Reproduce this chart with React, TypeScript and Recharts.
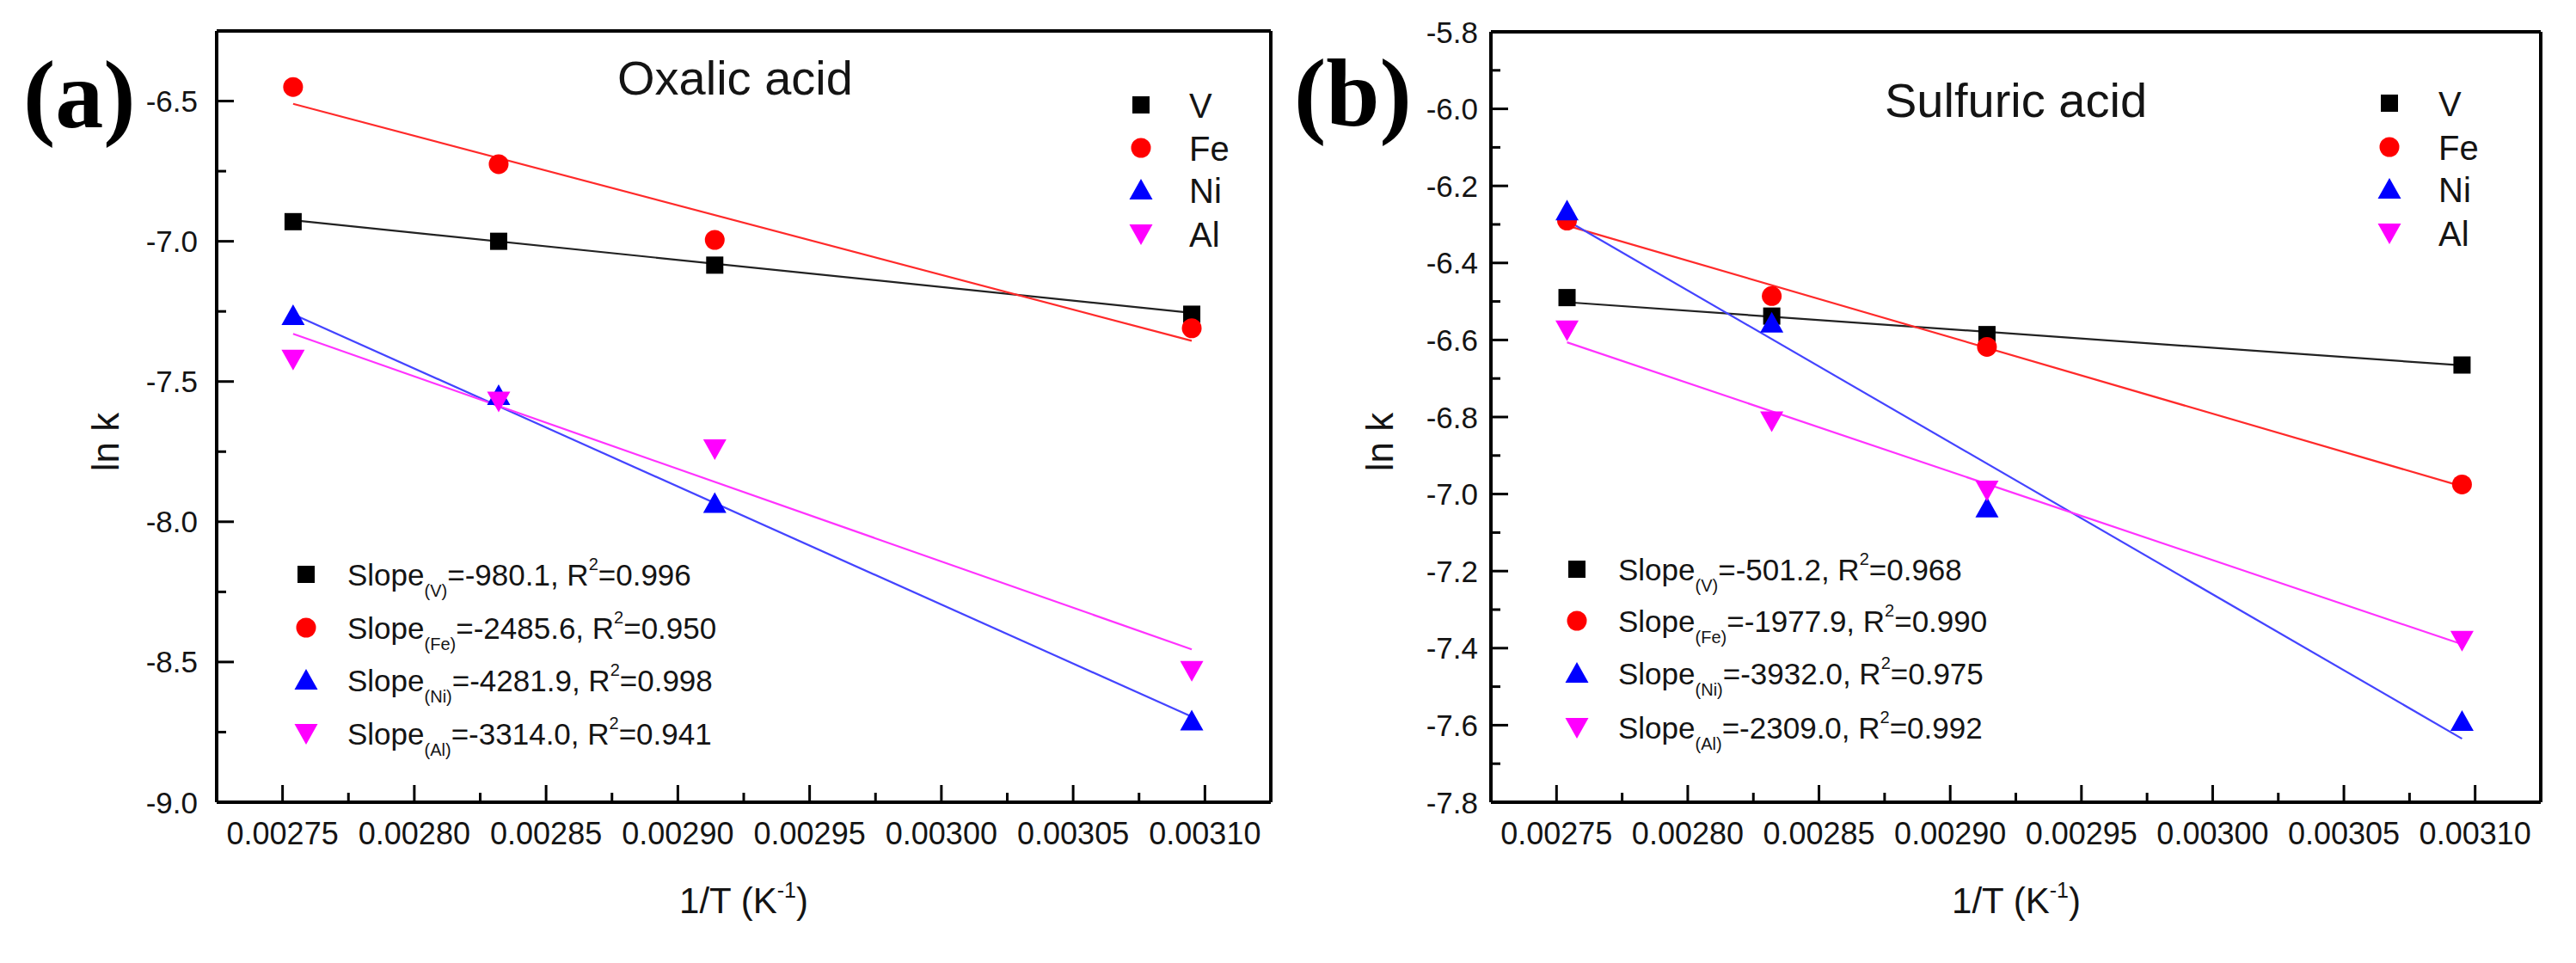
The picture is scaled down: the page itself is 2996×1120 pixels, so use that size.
import React from 'react';
import { ComposedChart, Scatter, XAxis, YAxis, ReferenceLine } from 'recharts';

// ---------- data ----------
const INV_T = [0.002754, 0.002832, 0.002914, 0.003095];
const FIT_X = [0.002754, 0.003095];

const SERIES_NAMES = ['V', 'Fe', 'Ni', 'Al'];

// (a) Oxalic acid
const OX_V = [-6.93, -7.0, -7.085, -7.26];
const OX_FE = [-6.45, -6.725, -6.995, -7.31];
const OX_NI = [-7.265, -7.55, -7.935, -8.71];
const OX_AL = [-7.42, -7.57, -7.74, -8.53];
const OX_FIT_V = [-6.925, -7.255];
const OX_FIT_FE = [-6.51, -7.355];
const OX_FIT_NI = [-7.26, -8.695];
const OX_FIT_AL = [-7.33, -8.455];
const OX_SLOPES = ['-980.1', '-2485.6', '-4281.9', '-3314.0'];
const OX_R2 = ['0.996', '0.950', '0.998', '0.941'];

// (b) Sulfuric acid
const SU_V = [-6.49, -6.538, -6.586, -6.665];
const SU_FE = [-6.29, -6.486, -6.618, -6.975];
const SU_NI = [-6.265, -6.556, -7.036, -7.59];
const SU_AL = [-6.574, -6.81, -6.99, -7.38];
const SU_FIT_V = [-6.502, -6.666];
const SU_FIT_FE = [-6.303, -6.98];
const SU_FIT_NI = [-6.29, -7.635];
const SU_FIT_AL = [-6.606, -7.39];
const SU_SLOPES = ['-501.2', '-1977.9', '-3932.0', '-2309.0'];
const SU_R2 = ['0.968', '0.990', '0.975', '0.992'];

// ticks
const X_MAJOR = [0.00275, 0.0028, 0.00285, 0.0029, 0.00295, 0.003, 0.00305, 0.0031];
const X_MINOR = [0.002775, 0.002825, 0.002875, 0.002925, 0.002975, 0.003025, 0.003075];
const OX_Y_MAJOR = [-9.0, -8.5, -8.0, -7.5, -7.0, -6.5];
const OX_Y_MINOR = [-8.75, -8.25, -7.75, -7.25, -6.75];
const SU_Y_MAJOR = [-7.8, -7.6, -7.4, -7.2, -7.0, -6.8, -6.6, -6.4, -6.2, -6.0, -5.8];
const SU_Y_MINOR = [-7.7, -7.5, -7.3, -7.1, -6.9, -6.7, -6.5, -6.3, -6.1, -5.9];

const X_DOMAIN = [0.002725, 0.003125];
const OX_Y_DOMAIN = [-9.0, -6.25];
const SU_Y_DOMAIN = [-7.8, -5.8];

// ---------- styles ----------
const COLORS = ['#000000', '#ff0000', '#0000ff', '#ff00ff'];
const LINE_COLORS = ['#222222', '#ff2a2a', '#4444ff', '#ff33ff'];
const SANS = '"Liberation Sans", Arial, sans-serif';
const SERIF = '"Liberation Serif", "Times New Roman", serif';
const TEXT = '#141414';

// ---------- marker shapes ----------
const drawMarker = (kind: number, cx: number, cy: number, fill: string) => {
  if (kind === 0) return <rect x={cx - 10} y={cy - 10} width={20} height={20} fill={fill} />;
  if (kind === 1) return <ellipse cx={cx} cy={cy} rx={11.5} ry={11.5} fill={fill} />;
  if (kind === 2)
    return <polygon points={`${cx},${cy - 13} ${cx + 13.5},${cy + 11} ${cx - 13.5},${cy + 11}`} fill={fill} />;
  return <polygon points={`${cx - 13.5},${cy - 11} ${cx + 13.5},${cy - 11} ${cx},${cy + 13}`} fill={fill} />;
};

const isIn = (list: number[], v: number) => list.some((m) => Math.abs(m - v) < 1e-9);

const makeXTick = (labelDy: number) => (props: any) => {
  const { x, y, payload } = props;
  const v = payload.value;
  const major = isIn(X_MAJOR, v);
  return (
    <g>
      <line x1={x} x2={x} y1={y} y2={y - (major ? 20 : 11)} stroke="#000" strokeWidth={3} />
      {major && (
        <text x={x} y={y + labelDy} textAnchor="middle" fontSize={36} fill={TEXT} fontFamily={SANS}>
          {v.toFixed(5)}
        </text>
      )}
    </g>
  );
};

const makeYTick = (majors: number[], gap: number) => (props: any) => {
  const { x, y, payload } = props;
  const v = payload.value;
  const major = isIn(majors, v);
  return (
    <g>
      <line x1={x} x2={x + (major ? 20 : 11)} y1={y} y2={y} stroke="#000" strokeWidth={3} />
      {major && (
        <text x={x - gap} y={y + 12.5} textAnchor="end" fontSize={35} fill={TEXT} fontFamily={SANS}>
          {v.toFixed(1)}
        </text>
      )}
    </g>
  );
};

type PanelProps = {
  left: number;
  width: number;
  plotLeft: number;
  plotRight: number;
  plotTop: number;
  plotBottom: number;
  yDomain: number[];
  yMajor: number[];
  yMinor: number[];
  yGap: number;
  points: number[][];
  fits: number[][];
};

const Panel = (p: PanelProps) => {
  const yTicks = [...p.yMajor, ...p.yMinor].sort((a, b) => a - b);
  const xTicks = [...X_MAJOR, ...X_MINOR].sort((a, b) => a - b);
  return (
    <div style={{ position: 'absolute', left: p.left, top: 0, width: p.width, height: 1120 }}>
      <ComposedChart
        width={p.width}
        height={1120}
        margin={{ top: p.plotTop, right: p.left + p.width - p.plotRight, left: 0, bottom: 0 }}
      >
        <XAxis
          type="number"
          dataKey="x"
          domain={X_DOMAIN}
          allowDataOverflow
          ticks={xTicks}
          interval={0}
          height={1120 - p.plotBottom}
          tickSize={0}
          tickMargin={0}
          tickLine={false}
          axisLine={{ stroke: '#000', strokeWidth: 4 }}
          tick={makeXTick(49)}
        />
        <YAxis
          type="number"
          dataKey="y"
          domain={p.yDomain}
          allowDataOverflow
          ticks={yTicks}
          interval={0}
          width={p.plotLeft - p.left}
          tickSize={0}
          tickMargin={0}
          tickLine={false}
          axisLine={{ stroke: '#000', strokeWidth: 4 }}
          tick={makeYTick(p.yMajor, p.yGap)}
        />
        <ReferenceLine y={p.yDomain[1]} stroke="#000" strokeWidth={4} />
        <ReferenceLine x={X_DOMAIN[1]} stroke="#000" strokeWidth={4} />
        {p.fits.map((f, i) => (
          <Scatter
            key={'fit' + i}
            name={SERIES_NAMES[i] + ' fit'}
            data={FIT_X.map((x, j) => ({ x, y: f[j] }))}
            fill={LINE_COLORS[i]}
            line={{ stroke: LINE_COLORS[i], strokeWidth: 2.2 }}
            shape={() => <g />}
            isAnimationActive={false}
          />
        ))}
        {p.points.map((s, i) => (
          <Scatter
            key={'pts' + i}
            name={SERIES_NAMES[i]}
            data={INV_T.map((x, j) => ({ x, y: s[j] }))}
            fill={COLORS[i]}
            shape={(sp: any) => drawMarker(i, sp.cx, sp.cy, COLORS[i])}
            isAnimationActive={false}
          />
        ))}
      </ComposedChart>
    </div>
  );
};

const SlopeLegend = ({ x, mx, rows, slopes, r2 }: { x: number; mx: number; rows: number[]; slopes: string[]; r2: string[] }) => (
  <g>
    {rows.map((ry, i) => (
      <g key={i}>
        {drawMarker(i, mx, ry, COLORS[i])}
        <text x={x} y={ry + 12.5} fontSize={35} fill={TEXT} fontFamily={SANS}>
          Slope
          <tspan fontSize={20} dy={13}>({SERIES_NAMES[i]})</tspan>
          <tspan dy={-13}>{'=' + slopes[i] + ', R'}</tspan>
          <tspan fontSize={20} dy={-18}>2</tspan>
          <tspan dy={18}>{'=' + r2[i]}</tspan>
        </text>
      </g>
    ))}
  </g>
);

const NameLegend = ({ x, mx, rows }: { x: number; mx: number; rows: number[] }) => (
  <g>
    {rows.map((ry, i) => (
      <g key={i}>
        {drawMarker(i, mx, ry, COLORS[i])}
        <text x={x} y={ry + 14.5} fontSize={40} fill={TEXT} fontFamily={SANS}>
          {SERIES_NAMES[i]}
        </text>
      </g>
    ))}
  </g>
);

const XTitle = ({ cx }: { cx: number }) => (
  <text x={cx} y={1062} textAnchor="middle" fontSize={42} fill={TEXT} fontFamily={SANS}>
    1/T (K<tspan fontSize={25} dy={-18}>-1</tspan>
    <tspan dy={18}>)</tspan>
  </text>
);

const YTitle = ({ bx }: { bx: number }) => (
  <text
    x={bx}
    y={514}
    textAnchor="middle"
    fontSize={44}
    fill={TEXT}
    fontFamily={SANS}
    transform={`rotate(-90, ${bx}, 514)`}
  >
    ln k
  </text>
);

export default function App() {
  return (
    <div
      style={{
        position: 'absolute',
        left: 0,
        top: 0,
        width: 2996,
        height: 1120,
        background: '#fff',
        overflow: 'hidden',
      }}
    >
      <Panel
        left={0}
        width={1490}
        plotLeft={252}
        plotRight={1478}
        plotTop={36}
        plotBottom={933}
        yDomain={OX_Y_DOMAIN}
        yMajor={OX_Y_MAJOR}
        yMinor={OX_Y_MINOR}
        yGap={22}
        points={[OX_V, OX_FE, OX_NI, OX_AL]}
        fits={[OX_FIT_V, OX_FIT_FE, OX_FIT_NI, OX_FIT_AL]}
      />
      <Panel
        left={1490}
        width={1506}
        plotLeft={1734}
        plotRight={2955}
        plotTop={37}
        plotBottom={933}
        yDomain={SU_Y_DOMAIN}
        yMajor={SU_Y_MAJOR}
        yMinor={SU_Y_MINOR}
        yGap={15}
        points={[SU_V, SU_FE, SU_NI, SU_AL]}
        fits={[SU_FIT_V, SU_FIT_FE, SU_FIT_NI, SU_FIT_AL]}
      />
      <svg
        width={2996}
        height={1120}
        style={{ position: 'absolute', left: 0, top: 0, pointerEvents: 'none' }}
      >
        <text x={27} y={148} fontSize={112} fontWeight="bold" fill="#000" fontFamily={SERIF}>
          (a)
        </text>
        <text x={1505} y={146} fontSize={112} fontWeight="bold" fill="#000" fontFamily={SERIF}>
          (b)
        </text>
        <text x={718} y={110} fontSize={56} fill={TEXT} fontFamily={SANS}>
          Oxalic acid
        </text>
        <text x={2192} y={136} fontSize={56} fill={TEXT} fontFamily={SANS}>
          Sulfuric acid
        </text>
        <NameLegend x={1383} mx={1327} rows={[122, 172, 221, 272]} />
        <NameLegend x={2836} mx={2779} rows={[120, 171, 220, 271]} />
        <SlopeLegend x={404} mx={356} rows={[668, 730, 791, 853]} slopes={OX_SLOPES} r2={OX_R2} />
        <SlopeLegend x={1882} mx={1834} rows={[662, 722, 783, 846]} slopes={SU_SLOPES} r2={SU_R2} />
        <XTitle cx={865} />
        <XTitle cx={2345} />
        <YTitle bx={138} />
        <YTitle bx={1620} />
      </svg>
    </div>
  );
}
